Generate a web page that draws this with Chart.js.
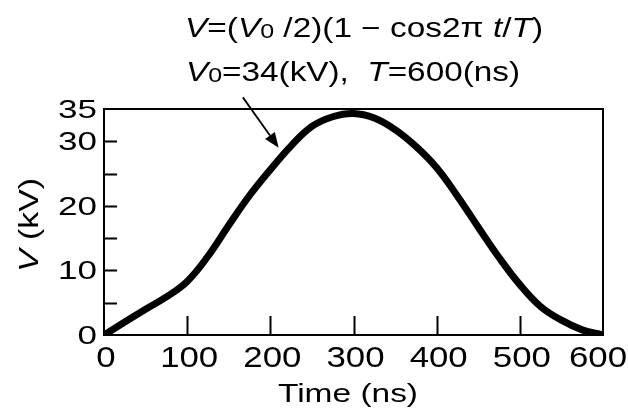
<!DOCTYPE html>
<html lang="en">
<head>
    <meta charset="UTF-8">
    <title>Voltage waveform</title>
    <script src="https://cdn.jsdelivr.net/npm/chart.js"></script>
    <style>
        body {
            margin: 0;
            background: #fff;
        }
        .wrap {
            width: 628px;
            height: 416px;
        }
    </style>
</head>
<body>
    <div class="wrap"><canvas id="pulse-chart" width="628" height="416"></canvas></div>

    <script>
        // values (ns, kV)
        const times = [0, 25, 50, 75, 100, 125, 150, 175, 200, 225, 250, 275, 300,
                       325, 350, 375, 400, 425, 450, 475, 500, 525, 550, 575, 600];
        const volts = [0, 2.0, 4.0, 5.9, 8.3, 12.2, 17.0, 21.6, 25.6, 29.3, 32.3, 33.8, 34.3,
                       33.6, 31.8, 29.2, 25.9, 21.5, 16.7, 12.0, 7.8, 4.4, 2.3, 0.8, 0];
        const xTicks = [0, 100, 200, 300, 400, 500, 600];
        const yTicks = [0, 5, 10, 15, 20, 25, 30, 35];
        const yLabelled = [0, 10, 20, 30, 35];

        // arrow from the formula to the curve, in data units
        const arrowFrom = { x: 167, y: 36.8 };
        const arrowTo = { x: 210, y: 29.0 };

        const FONT = '"Liberation Sans", Arial, sans-serif';

        function setFont(ctx, r, size) {
            const s = r.sub ? size * 0.75 : size;
            ctx.font = (r.it ? 'italic ' : '') + s + 'px ' + FONT;
        }

        function runsWidth(ctx, runs, size) {
            let w = 0;
            runs.forEach(r => {
                setFont(ctx, r, size);
                w += ctx.measureText(r.t).width;
            });
            return w;
        }

        // draws a line of mixed italic / subscript text, stretched to a given width
        function drawRuns(ctx, runs, x, y, size, width) {
            const sx = width / runsWidth(ctx, runs, size);
            ctx.save();
            ctx.translate(x, y);
            ctx.scale(sx, 1);
            let cx = 0;
            runs.forEach(r => {
                setFont(ctx, r, size);
                ctx.fillText(r.t, cx, r.sub ? 1 : 0);
                cx += ctx.measureText(r.t).width;
            });
            ctx.restore();
        }

        // tick label, stretched sideways like the scanned figure
        function drawLabel(ctx, text, x, y, size, sx, align) {
            ctx.save();
            ctx.font = size + 'px ' + FONT;
            const w = ctx.measureText(text).width * sx;
            let left = align === 'right' ? x - w : x - w / 2;
            left = Math.min(left, 627 - w);
            ctx.translate(left, y);
            ctx.scale(sx, 1);
            ctx.textAlign = 'left';
            ctx.fillText(text, 0, 0);
            ctx.restore();
        }

        const framePlugin = {
            id: 'frame',
            afterDraw(chart) {
                const ctx = chart.ctx;
                const a = chart.chartArea;
                const xs = chart.scales.x;
                const ys = chart.scales.y;
                ctx.save();
                ctx.strokeStyle = '#000';
                ctx.fillStyle = '#000';
                ctx.lineWidth = 2;
                ctx.strokeRect(a.left, a.top, a.right - a.left, a.bottom - a.top);

                // inward ticks
                ctx.beginPath();
                yTicks.slice(1, -1).forEach(v => {
                    const py = Math.round(ys.getPixelForValue(v)) + 0.5;
                    ctx.moveTo(a.left, py);
                    ctx.lineTo(a.left + 13, py);
                });
                xTicks.slice(1, -1).forEach(v => {
                    const px = Math.round(xs.getPixelForValue(v)) + 0.5;
                    ctx.moveTo(px, a.bottom);
                    ctx.lineTo(px, a.bottom - 19);
                });
                ctx.stroke();

                // tick labels from the scales
                ctx.textBaseline = 'alphabetic';
                xs.ticks.forEach(t => {
                    drawLabel(ctx, String(t.value), xs.getPixelForValue(t.value) + 2, a.bottom + 32, 30, 1.16, 'center');
                });
                ys.ticks.forEach(t => {
                    if (!yLabelled.includes(t.value)) return;
                    drawLabel(ctx, String(t.value), a.left - 7, ys.getPixelForValue(t.value) + 9, 25, 1.4, 'right');
                });

                // axis titles
                drawRuns(ctx, [{ t: 'Time (ns)' }], 278, 402, 26, 140);

                ctx.save();
                ctx.translate(38, 272);
                ctx.rotate(-Math.PI / 2);
                drawRuns(ctx, [{ t: 'V', it: true }, { t: ' (kV)' }], 0, 0, 27, 94);
                ctx.restore();

                // formula
                drawRuns(ctx, [
                    { t: 'V', it: true }, { t: '=(' }, { t: 'V', it: true }, { t: '0', sub: true },
                    { t: ' /2)(1 \u2212 cos2' }, { t: '\u03c0 ' }, { t: 't', it: true },
                    { t: '/' }, { t: 'T', it: true }, { t: ')' }
                ], 185, 37, 27, 358);
                drawRuns(ctx, [
                    { t: 'V', it: true }, { t: '0', sub: true }, { t: '=34(kV),  ' },
                    { t: 'T', it: true }, { t: '=600(ns)' }
                ], 186, 81, 27, 334);

                // arrow
                const x0 = xs.getPixelForValue(arrowFrom.x), y0 = ys.getPixelForValue(arrowFrom.y);
                const x1 = xs.getPixelForValue(arrowTo.x), y1 = ys.getPixelForValue(arrowTo.y);
                const ang = Math.atan2(y1 - y0, x1 - x0);
                const hl = 15, hw = 6;
                ctx.lineWidth = 1.8;
                ctx.beginPath();
                ctx.moveTo(x0, y0);
                ctx.lineTo(x1 - hl * Math.cos(ang), y1 - hl * Math.sin(ang));
                ctx.stroke();
                ctx.beginPath();
                ctx.moveTo(x1, y1);
                ctx.lineTo(x1 - hl * Math.cos(ang) + hw * Math.sin(ang), y1 - hl * Math.sin(ang) - hw * Math.cos(ang));
                ctx.lineTo(x1 - hl * Math.cos(ang) - hw * Math.sin(ang), y1 - hl * Math.sin(ang) + hw * Math.cos(ang));
                ctx.closePath();
                ctx.fill();
                ctx.restore();
            }
        };

        const chart = new Chart(document.getElementById('pulse-chart'), {
            type: 'line',
            data: {
                datasets: [{
                    data: times.map((t, i) => ({ x: t, y: volts[i] })),
                    borderColor: '#000',
                    borderWidth: 7,
                    pointRadius: 0,
                    tension: 0.4,
                    borderCapStyle: 'round',
                    fill: false
                }]
            },
            options: {
                responsive: false,
                animation: false,
                events: [],
                layout: { padding: { left: 0, top: 109, right: 25, bottom: 0 } },
                plugins: {
                    legend: { display: false },
                    tooltip: { enabled: false }
                },
                scales: {
                    x: {
                        type: 'linear',
                        min: 0,
                        max: 600,
                        afterBuildTicks: s => { s.ticks = xTicks.map(v => ({ value: v })); },
                        afterFit: s => { s.height = 81; s.paddingLeft = 0; s.paddingRight = 0; },
                        ticks: { display: false },
                        grid: { display: false },
                        border: { display: false }
                    },
                    y: {
                        min: 0,
                        max: 35,
                        afterBuildTicks: s => { s.ticks = yTicks.map(v => ({ value: v })); },
                        afterFit: s => { s.width = 104; },
                        ticks: { display: false },
                        grid: { display: false },
                        border: { display: false }
                    }
                }
            },
            plugins: [framePlugin]
        });
    </script>
</body>
</html>
